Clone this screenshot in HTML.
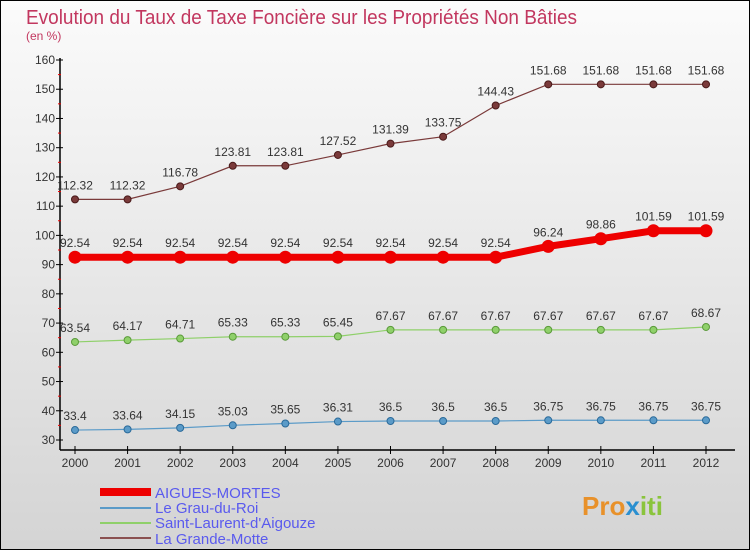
<!DOCTYPE html>
<html><head><meta charset="utf-8"><style>
body{margin:0;width:750px;height:550px;overflow:hidden;font-family:"Liberation Sans",sans-serif}
</style></head><body>
<svg width="750" height="550" font-family="Liberation Sans, sans-serif">
<defs><linearGradient id="bg" x1="0" y1="0" x2="0" y2="1"><stop offset="0" stop-color="#fbfbfb"/><stop offset="1" stop-color="#d4d4d4"/></linearGradient></defs>
<rect x="0.5" y="0.5" width="749" height="549" fill="url(#bg)" stroke="#000"/>
<text x="26" y="24" font-size="20" textLength="551" lengthAdjust="spacingAndGlyphs" fill="#c2375f">Evolution du Taux de Taxe Foncière sur les Propriétés Non Bâties</text>
<text x="26" y="40" font-size="12" fill="#c2375f">(en %)</text>
<g id="axes"></g>
<g id="series"></g>
<g>
<rect x="100" y="488" width="51" height="8" fill="#e00"/>
<text x="155" y="498" font-size="15" fill="#5a5aee">AIGUES-MORTES</text>
<line x1="100" y1="508" x2="151" y2="508" stroke="#5b9bc8" stroke-width="2"/>
<text x="155" y="513" font-size="15" fill="#5a5aee">Le Grau-du-Roi</text>
<line x1="100" y1="523" x2="151" y2="523" stroke="#8fd06a" stroke-width="2"/>
<text x="155" y="528" font-size="15" fill="#5a5aee">Saint-Laurent-d'Aigouze</text>
<line x1="100" y1="538" x2="151" y2="538" stroke="#8a5050" stroke-width="2"/>
<text x="155" y="544" font-size="15" fill="#5a5aee">La Grande-Motte</text>
</g>
<text x="582" y="515" font-size="26" font-weight="bold" fill="#e8912a">Pro<tspan fill="#2a8fd0">x</tspan><tspan fill="#8ac43c">iti</tspan></text>
</svg>
<script>
const years=[2000,2001,2002,2003,2004,2005,2006,2007,2008,2009,2010,2011,2012];
const yTicks=[30,40,50,60,70,80,90,100,110,120,130,140,150,160];
const aiguesMortes=[92.54,92.54,92.54,92.54,92.54,92.54,92.54,92.54,92.54,96.24,98.86,101.59,101.59];
const grauDuRoi=[33.4,33.64,34.15,35.03,35.65,36.31,36.5,36.5,36.5,36.75,36.75,36.75,36.75];
const saintLaurent=[63.54,64.17,64.71,65.33,65.33,65.45,67.67,67.67,67.67,67.67,67.67,67.67,68.67];
const grandeMotte=[112.32,112.32,116.78,123.81,123.81,127.52,131.39,133.75,144.43,151.68,151.68,151.68,151.68];
const NS="http://www.w3.org/2000/svg";
const xs=i=>75+i*(706-75)/(years.length-1);
const ys=v=>440-(v-30)*380/130;
function mk(t,a,p){const e=document.createElementNS(NS,t);for(const k in a)e.setAttribute(k,a[k]);p.appendChild(e);return e;}
const ax=document.getElementById('axes');
const yl=mk('line',{x1:60,y1:58,x2:60,y2:450,stroke:'#000','stroke-width':1.5},ax);


const xl=mk('line',{x1:60,y1:450,x2:735,y2:450,stroke:'#000','stroke-width':1.5},ax);


yTicks.forEach(v=>{const y=ys(v);mk('line',{x1:56,y1:y,x2:63,y2:y,stroke:'#000'},ax);
 if(v<160)mk('line',{x1:58,y1:ys(v+5),x2:61,y2:ys(v+5),stroke:'#e00'},ax);
 const t=mk('text',{x:55,y:y+4,'font-size':12,fill:'#333','text-anchor':'end'},ax);t.textContent=v;
 
 });
years.forEach((yr,i)=>{const x=xs(i);mk('line',{x1:x,y1:446,x2:x,y2:454,stroke:'#000'},ax);
 const t=mk('text',{x:x,y:467,'font-size':12,fill:'#333','text-anchor':'middle'},ax);t.textContent=yr;
 
 });
const sg=document.getElementById('series');
function series(vals,color,lw,r,name,stroke){
 const g=mk('g',{},sg);
 
 
 mk('polyline',{points:vals.map((v,i)=>xs(i)+','+ys(v)).join(' '),fill:'none',stroke:color,'stroke-width':lw},g);
 vals.forEach((v,i)=>{const c=mk('circle',{cx:xs(i),cy:ys(v),r:r,fill:color,stroke:stroke,'stroke-width':1},g);
  
  
  const t=mk('text',{x:xs(i),y:ys(v)-10,'font-size':12,fill:'#333','text-anchor':'middle'},g);t.textContent=v;
  
  });
}
series(grandeMotte,'#7a3a3a',1.2,3.5,'series-la-grande-motte','#4a1a1a');
series(saintLaurent,'#8fd06a',1.2,3.5,'series-saint-laurent','#5a9a3a');
series(grauDuRoi,'#5b9bc8',1.2,3.5,'series-le-grau-du-roi','#2a6a9a');
series(aiguesMortes,'#ee0000',7,6,'series-aigues-mortes','#ee0000');
</script>
</body></html>
